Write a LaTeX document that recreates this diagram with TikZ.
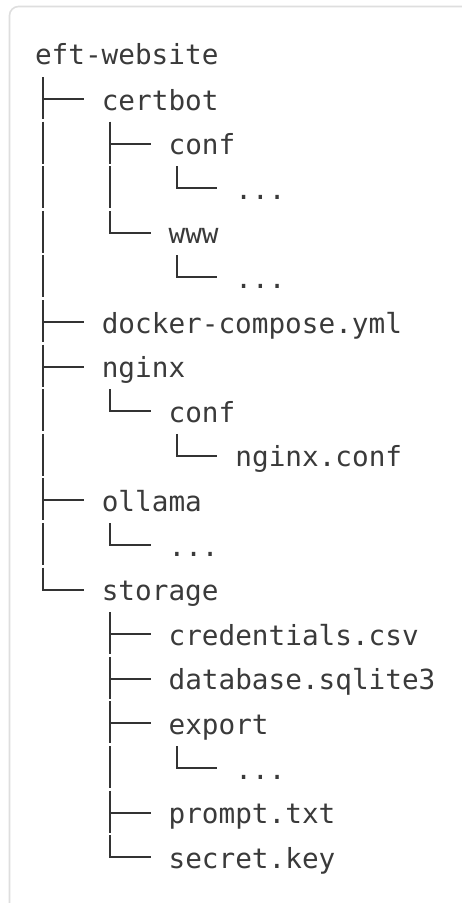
\documentclass[tikz,border=0pt]{standalone}
\usepackage{fontspec}
\setmonofont{DejaVu Sans Mono}
\definecolor{txtc}{HTML}{3A3A3A}
\definecolor{linec}{HTML}{333333}
\definecolor{framec}{HTML}{DEDEDE}
\tikzset{
  entry/.style={anchor=base west, inner sep=0pt, outer sep=0pt, text=txtc,
    font=\ttfamily\fontsize{27.7}{30}\selectfont},
  treeline/.style={draw=linec, line width=2pt, line join=miter},
  frameline/.style={draw=framec, line width=1.6pt, rounded corners=9pt}
}
% vertical bar in column k at baseline b
\newcommand\trV[2]{\draw[treeline] ({43.35+66.8*#1},{#2-33}) -- ({43.35+66.8*#1},{#2+9});}
% tee in column k at baseline b to node
\newcommand\trT[3]{\draw[treeline] ({43.35+66.8*#1},{#2-33}) -- ({43.35+66.8*#1},{#2+9});
  \draw[treeline] ({43.35+66.8*#1},{#2-11}) -- ([shift={(-18pt,11pt)}]#3.base west);}
% elbow in column k at baseline b to node
\newcommand\trL[3]{\draw[treeline] ({43.35+66.8*#1},{#2-33}) |- ([shift={(-18pt,11pt)}]#3.base west);}
\begin{document}
\begin{tikzpicture}[x=1pt,y=-1pt]
\useasboundingbox (0,0) rectangle (461,903);
\draw[frameline] (9.5,910) -- (9.5,6.5) -- (470,6.5);
% text
\node[entry] (t0)  at (35,64)     {eft-website};
\node[entry] (t1)  at (101.8,110) {certbot};
\node[entry] (t2)  at (168.6,154.6) {conf};
\node[entry] (t3)  at (235.4,199.2) {...};
\node[entry] (t4)  at (168.6,243.8) {www};
\node[entry] (t5)  at (235.4,288.4) {...};
\node[entry] (t6)  at (101.8,333) {docker-compose.yml};
\node[entry] (t7)  at (101.8,377.6) {nginx};
\node[entry] (t8)  at (168.6,422.2) {conf};
\node[entry] (t9)  at (235.4,466.8) {nginx.conf};
\node[entry] (t10) at (101.8,511.4) {ollama};
\node[entry] (t11) at (168.6,556) {...};
\node[entry] (t12) at (101.8,600.6) {storage};
\node[entry] (t13) at (168.6,645.2) {credentials.csv};
\node[entry] (t14) at (168.6,689.8) {database.sqlite3};
\node[entry] (t15) at (168.6,734.4) {export};
\node[entry] (t16) at (235.4,779) {...};
\node[entry] (t17) at (168.6,823.6) {prompt.txt};
\node[entry] (t18) at (168.6,868.2) {secret.key};
% tree lines
\trT{0}{110}{t1}
\trV{0}{154.6} \trT{1}{154.6}{t2}
\trV{0}{199.2} \trV{1}{199.2} \trL{2}{199.2}{t3}
\trV{0}{243.8} \trL{1}{243.8}{t4}
\trV{0}{288.4} \trL{2}{288.4}{t5}
\trT{0}{333}{t6}
\trT{0}{377.6}{t7}
\trV{0}{422.2} \trL{1}{422.2}{t8}
\trV{0}{466.8} \trL{2}{466.8}{t9}
\trT{0}{511.4}{t10}
\trV{0}{556} \trL{1}{556}{t11}
\trL{0}{600.6}{t12}
\trT{1}{645.2}{t13}
\trT{1}{689.8}{t14}
\trT{1}{734.4}{t15}
\trV{1}{779} \trL{2}{779}{t16}
\trT{1}{823.6}{t17}
\trL{1}{868.2}{t18}
\end{tikzpicture}
\end{document}
